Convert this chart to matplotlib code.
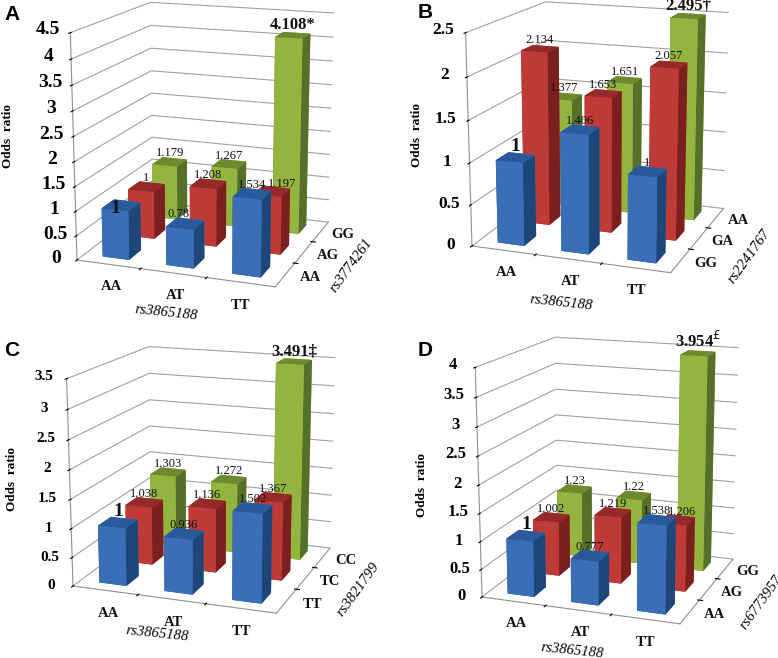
import matplotlib
matplotlib.use("Agg")
import matplotlib.pyplot as plt
from mpl_toolkits.mplot3d import proj3d

plt.rcParams["font.family"] = ["Liberation Serif", "DejaVu Serif"]
plt.rcParams["grid.color"] = "#a0a0a0"
plt.rcParams["grid.linewidth"] = 0.8
plt.rcParams["axes.edgecolor"] = "#909090"

W, H = 778, 658

# one block per panel: rows run front to back, columns AA / AT / TT
panels = ["A", "B", "C", "D"]
x_cats = ["AA", "AT", "TT"]
x_title = "rs3865188"

values_a = [[1, 0.78, 1.534], [1, 1.208, 1.197], [1.179, 1.267, 4.108]]
values_b = [[1, 1.406, 1], [2.134, 1.653, 2.057], [1.377, 1.651, 2.495]]
values_c = [[1, 0.936, 1.502], [1.038, 1.136, 1.367], [1.303, 1.272, 3.491]]
values_d = [[1, 0.777, 1.538], [1.002, 1.219, 1.206], [1.23, 1.22, 3.954]]
all_values = [values_a, values_b, values_c, values_d]

row_cats = [["AA", "AG", "GG"], ["GG", "GA", "AA"], ["TT", "TC", "CC"], ["AA", "AG", "GG"]]
row_titles = ["rs3774261", "rs2241767", "rs3821799", "rs6773957"]
z_max = [4.5, 2.5, 3.5, 4]
top_marks = ["*", "\u2020", "\u2021", "$^{\\mathsf{\u00a3}}$"]

# front, top, side colour per row
row_colors = [
    ("#3a6fb7", "#2a5a9c", "#1f4678"),
    ("#bf3b38", "#96292a", "#7b1f1f"),
    ("#93b53f", "#6c8a2e", "#55702a"),
]

# picture placement, in reference pixels
floor_corner = [(77, 260), (472, 246), (73, 586), (482, 597)]
top_corner = [(335, 14), (732, 16), (341, 364), (738, 347)]
box_z = [258, 242, 230, 261]
ztick_size = [14, 12.5, 11, 12]
letter_pos = [(12, 15), (425, 13), (12, 350), (425, 350)]
odds_pos = [(8, 136), (417, 135), (12, 479), (422, 485)]
xtitle_pos = [(166, 313), (561, 303), (157, 634), (572, 651)]
rowtitle_pos = [(351, 265), (749, 256), (358, 589), (761, 602)]

# a few labels sit off-centre in the original: (panel, row, column) -> dx, dz share
label_nudge = {
    (0, 0, 0): (-0.1, -0.07),
    (0, 0, 1): (-0.1, 0),
    (0, 1, 2): (0.15, 0),
    (3, 1, 2): (0.08, 0),
}


def place_axes(ax, p_floor, p_top, zm):
    # scale and shift the axes until two box corners land on the wanted pixels
    ax.set_position([0.2, 0.2, 0.5, 0.5 * W / H])
    size = 0.5 * W
    ax.M = ax.get_proj()
    pts = []
    for c in [(0, 0, 0), (3, 3, zm)]:
        px, py, _ = proj3d.proj_transform(c[0], c[1], c[2], ax.M)
        pts.append(ax.transData.transform((px, py)))
    dx = pts[1][0] - pts[0][0]
    dy = pts[1][1] - pts[0][1]
    tx = p_top[0] - p_floor[0]
    ty = p_floor[1] - p_top[1]
    s = (tx * dx + ty * dy) / (dx * dx + dy * dy)
    u = (pts[0][0] - 0.2 * W) / size
    v = (pts[0][1] - 0.2 * H) / size
    new = size * s
    left = p_floor[0] - u * new
    bottom = (H - p_floor[1]) - v * new
    ax.set_position([left / W, bottom / H, new / W, new / H])


fig = plt.figure(figsize=(W / 100, H / 100), dpi=100, facecolor="white")

for k, name in enumerate(panels):
    ax = fig.add_axes([0.1, 0.1, 0.4, 0.4], projection="3d", computed_zorder=False)
    ax.patch.set_visible(False)
    ax.set_proj_type("persp", focal_length=0.65)
    ax.view_init(elev=15, azim=-70)
    ax.set_box_aspect((232, 222, box_z[k]))
    ax.set_xlim(0, 3, view_margin=0)
    ax.set_ylim(0, 3, view_margin=0)
    ax.set_zlim(0, z_max[k], view_margin=0)

    for axis in [ax.xaxis, ax.yaxis, ax.zaxis]:
        axis.set_pane_color((1, 1, 1, 0))
        axis.label.set_visible(False)
        axis.offsetText.set_visible(False)
    ax.xaxis.pane.set_edgecolor("#a0a0a0")
    ax.yaxis.pane.set_edgecolor((1, 1, 1, 0))
    ax.zaxis.pane.set_edgecolor("#a0a0a0")

    ax.set_xticks([1, 2])
    ax.set_yticks([1, 2])
    ax.set_xticklabels([])
    ax.set_yticklabels([])
    ticks = [0.5 * i for i in range(int(z_max[k] * 2) + 1)]
    ax.set_zticks(ticks)
    ax.set_zticklabels(["%g" % t for t in ticks], fontsize=ztick_size[k], fontweight="bold", va="baseline")
    ax.zaxis.set_ticks_position("lower")
    ax.tick_params(axis="z", pad=2)
    ax.xaxis.gridlines.set_visible(False)
    ax.yaxis.gridlines.set_visible(False)

    # back row first, so nearer bars cover the ones behind
    order = 10
    vals = all_values[k]
    for j in [2, 1, 0]:
        front, top, side = row_colors[j]
        for i in range(3):
            ax.bar3d(i + 0.29, j + 0.27, 0, 0.42, 0.46, vals[j][i],
                     color=[top, top, front, front, side, side],
                     shade=False, zorder=order)
            order += 1

    for j in [2, 1, 0]:
        for i in range(3):
            v = vals[j][i]
            label = "%g" % v
            size = 9
            weight = "normal"
            if j == 2 and i == 2:
                label += top_marks[k]
                size = 12
                weight = "bold"
            if j == 0 and i == 0:
                size = 14
                weight = "bold"
            nx, nz = label_nudge.get((k, j, i), (0, 0))
            ax.text(i + 0.5 + nx, j + 0.5, v + z_max[k] * (0.012 + nz), label, ha="center", va="bottom",
                    fontsize=size, fontweight=weight, color="#111111", zorder=200)

    for i, c in enumerate(x_cats):
        ax.text(i * 0.93 + 0.9, -0.8, 0, c, ha="center", va="center", fontsize=10.5,
                fontweight="bold", color="#111111", zorder=200)
    for j, c in enumerate(row_cats[k]):
        ax.text(3.36, j + 0.5, 0, c, ha="center", va="center", fontsize=10.5,
                fontweight="bold", color="#111111", zorder=200)

    place_axes(ax, floor_corner[k], top_corner[k], z_max[k])

    fig.text(letter_pos[k][0] / W, 1 - letter_pos[k][1] / H, name, fontsize=15, fontweight="bold",
             family="Liberation Sans", ha="center", va="center")
    fig.text(odds_pos[k][0] / W, 1 - odds_pos[k][1] / H, "Odds  ratio", fontsize=9.5, fontweight="bold",
             rotation=90, ha="center", va="center")
    fig.text(xtitle_pos[k][0] / W, 1 - xtitle_pos[k][1] / H, x_title, fontsize=10.5, style="italic",
             rotation=-6, ha="center", va="center")
    fig.text(rowtitle_pos[k][0] / W, 1 - rowtitle_pos[k][1] / H, row_titles[k], fontsize=10.5, style="italic",
             rotation=54, ha="center", va="center")

fig.savefig("out.png", dpi=100)
